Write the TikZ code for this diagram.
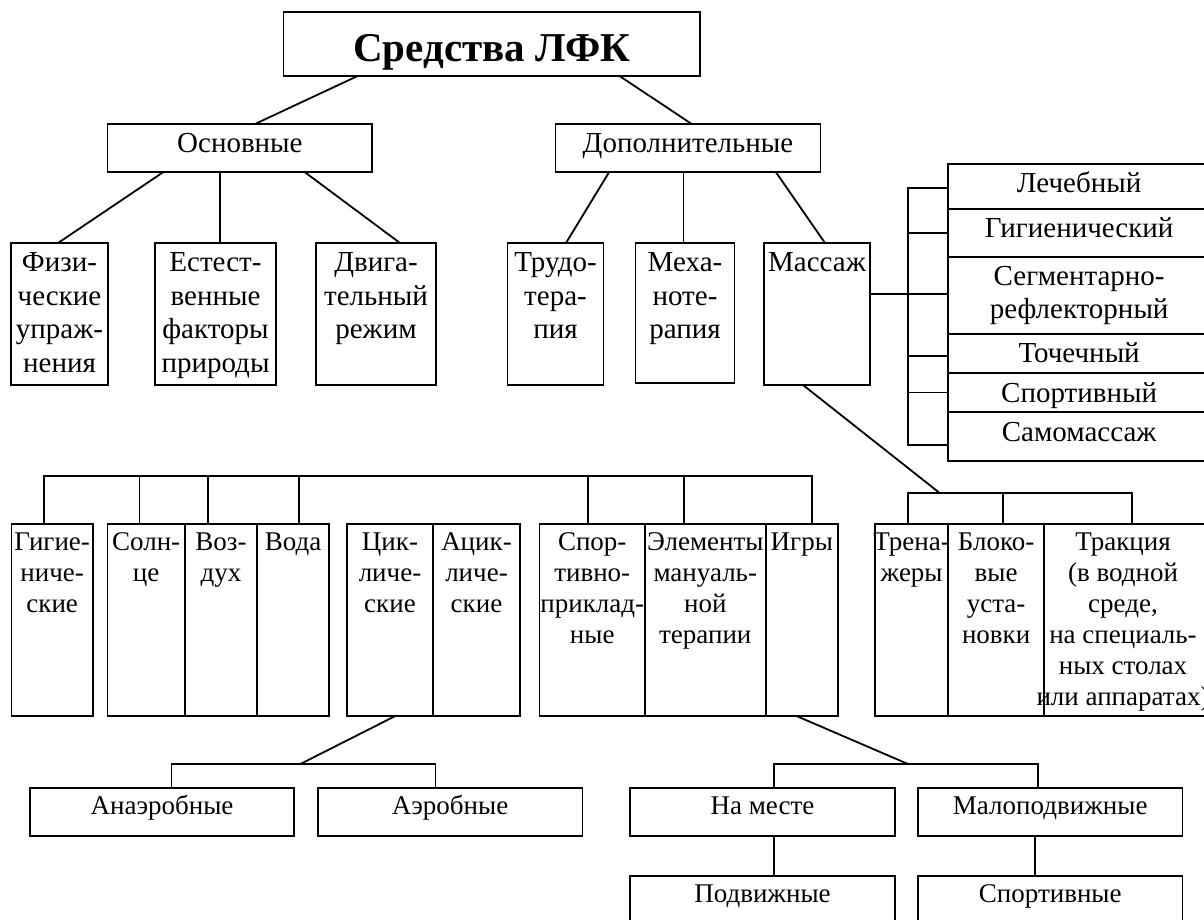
\documentclass[tikz,border=0pt]{standalone}
\usepackage{fontspec}
\setmainfont{Liberation Serif}
\usetikzlibrary{calc}
\newcommand\mkbox[5]{%
  \pgfmathsetmacro\mkbw{#4-#2}\pgfmathsetmacro\mkbh{#5-#3}%
  \node[bx, minimum width=\mkbw pt, minimum height=\mkbh pt] (#1) at (#2,#3) {};}
\tikzset{
  bx/.style={draw, line width=1.8pt, inner sep=0pt, outer sep=0pt, anchor=north west},
  ln/.style={line width=1.8pt},
  ta/.style={font=\fontsize{29}{33.5}\selectfont, align=center, inner sep=0pt, anchor=north},
  tb/.style={font=\fontsize{27}{31}\selectfont, align=center, inner sep=0pt, anchor=north},
}
\begin{document}
\begin{tikzpicture}[x=1pt,y=-1pt]
\useasboundingbox (0,0) rectangle (1204,920);
\fill[white] (0,0) rectangle (1204,920);
\clip (0,0) rectangle (1204,920);
% ---------- boxes ----------
\mkbox{title}{283.5}{12.3}{700}{76.3}
\mkbox{osn}{107.5}{124}{372.3}{172.3}
\mkbox{dop}{555.5}{124}{820.5}{172.3}
\mkbox{fiz}{11}{243}{108}{385}
\mkbox{est}{155}{243}{276}{385}
\mkbox{dvi}{316}{243}{436}{385}
\mkbox{trud}{507.5}{243}{603.5}{385}
\mkbox{mech}{635.5}{243}{734.5}{383}
\mkbox{mass}{764}{243}{870}{385}
\mkbox{lech}{948.3}{164}{1210}{209}
\mkbox{gig2}{948.3}{209}{1210}{256.7}
\mkbox{segm}{948.3}{256.7}{1210}{334}
\mkbox{toch}{948.3}{334}{1210}{372.7}
\mkbox{spor2}{948.3}{372.7}{1210}{412.3}
\mkbox{samo}{948.3}{412.3}{1210}{460.7}
\mkbox{gig}{11.4}{524}{93}{716}
\mkbox{soln}{107.4}{524}{185}{716}
\mkbox{vozd}{185}{524}{257}{716}
\mkbox{voda}{257}{524}{329}{716}
\mkbox{cikl}{347}{524}{433}{716}
\mkbox{acikl}{433}{524}{520}{716}
\mkbox{sport}{539.5}{524}{645}{716}
\mkbox{elem}{645}{524}{765.6}{716}
\mkbox{igry}{765.6}{524}{838}{716}
\mkbox{tren}{875}{524}{948.3}{716}
\mkbox{blok}{948.3}{524}{1044}{716}
\mkbox{trak}{1044}{524}{1208}{716}
\mkbox{anaer}{30}{788}{294}{836}
\mkbox{aer}{317.6}{788}{582.5}{836}
\mkbox{nam}{630}{788}{895}{836}
\mkbox{malo}{918}{788}{1182.5}{836}
\mkbox{podv}{630}{876}{895}{924}
\mkbox{sportv}{918}{876}{1182.5}{924}
% ---------- texts ----------
\node[font=\bfseries\fontsize{41}{48}\selectfont, inner sep=0pt, anchor=base] (title-t) at ([yshift=-49.4pt]title.north) {Средства ЛФК};
\node[ta] (osn-t) at ([yshift=-5pt]osn.north) {\strut Основные};
\node[ta] (dop-t) at ([yshift=-5pt]dop.north) {\strut Дополнительные};
\node[ta] (fiz-t) at ([yshift=-5pt]fiz.north) {\strut Физи-\\ческие\\упраж-\\нения};
\node[ta] (est-t) at ([yshift=-5pt]est.north) {\strut Естест-\\венные\\факторы\\природы};
\node[ta] (dvi-t) at ([yshift=-5pt]dvi.north) {\strut Двига-\\тельный\\режим};
\node[ta] (trud-t) at ([yshift=-5pt]trud.north) {\strut Трудо-\\тера-\\пия};
\node[ta] (mech-t) at ([yshift=-5pt]mech.north) {\strut Меха-\\ноте-\\рапия};
\node[ta] (mass-t) at ([yshift=-5pt]mass.north) {\strut Массаж};
\node[ta] (lech-t) at ([yshift=-5pt]lech.north) {\strut Лечебный};
\node[ta] (gig2-t) at ([yshift=-5pt]gig2.north) {\strut Гигиенический};
\node[ta] (segm-t) at ([yshift=-5pt]segm.north) {\strut Сегментарно-\\рефлекторный};
\node[ta] (toch-t) at ([yshift=-5pt]toch.north) {\strut Точечный};
\node[ta] (spor2-t) at ([yshift=-6pt]spor2.north) {\strut Спортивный};
\node[ta] (samo-t) at ([yshift=-6pt]samo.north) {\strut Самомассаж};
\node[tb] (gig-t) at ([yshift=-5pt]gig.north) {\strut Гигие-\\ниче-\\ские};
\node[tb] (soln-t) at ([yshift=-5pt]soln.north) {\strut Солн-\\це};
\node[tb] (vozd-t) at ([yshift=-5pt]vozd.north) {\strut Воз-\\дух};
\node[tb] (voda-t) at ([yshift=-5pt]voda.north) {\strut Вода};
\node[tb] (cikl-t) at ([yshift=-5pt]cikl.north) {\strut Цик-\\личе-\\ские};
\node[tb] (acikl-t) at ([yshift=-5pt]acikl.north) {\strut Ацик-\\личе-\\ские};
\node[tb] (sport-t) at ([yshift=-5pt]sport.north) {\strut Спор-\\тивно-\\приклад-\\ные};
\node[tb] (elem-t) at ([yshift=-5pt]elem.north) {\strut Элементы\\мануаль-\\ной\\терапии};
\node[tb] (igry-t) at ([yshift=-5pt]igry.north) {\strut Игры};
\node[tb] (tren-t) at ([yshift=-5pt]tren.north) {\strut Трена-\\жеры};
\node[tb] (blok-t) at ([yshift=-5pt]blok.north) {\strut Блоко-\\вые\\уста-\\новки};
\node[tb] (trak-t) at ([xshift=-3pt,yshift=-5pt]trak.north) {\strut Тракция\\(в водной\\среде,\\на специаль-\\ных столах\\или аппаратах)};
\node[tb] (anaer-t) at ([yshift=-5pt]anaer.north) {\strut Анаэробные};
\node[tb] (aer-t) at ([yshift=-5pt]aer.north) {\strut Аэробные};
\node[tb] (nam-t) at ([yshift=-5pt]nam.north) {\strut На месте};
\node[tb] (malo-t) at ([yshift=-5pt]malo.north) {\strut Малоподвижные};
\node[tb] (podv-t) at ([yshift=-5pt]podv.north) {\strut Подвижные};
\node[tb] (sportv-t) at ([yshift=-5pt]sportv.north) {\strut Спортивные};
% ---------- connectors ----------
\draw[ln] ([xshift=73.5pt]title.south west) -- ([xshift=147.5pt]osn.north west);
\draw[ln] ([xshift=336.5pt]title.south west) -- ([xshift=136.2pt]dop.north west);
\draw[ln] ([xshift=55.5pt]osn.south west) -- ([xshift=47pt]fiz.north west);
\draw[ln] ([xshift=112.1pt]osn.south west) -- ([xshift=64.6pt]est.north west);
\draw[ln] ([xshift=197.5pt]osn.south west) -- ([xshift=84pt]dvi.north west);
\draw[ln] ([xshift=53.5pt]dop.south west) -- ([xshift=58.5pt]trud.north west);
\draw[ln] ([xshift=128pt]dop.south west) -- ([xshift=48pt]mech.north west);
\draw[ln] ([xshift=220.5pt]dop.south west) -- ([xshift=61pt]mass.north west);
% massage -> kinds of massage
\coordinate (busT) at (908.3,188.3);
\coordinate (busB) at (908.3,445);
\coordinate (massj) at (913,294);
\draw[ln] ([yshift=20pt]mass.east) -- (massj);
\draw[ln] (busT -| lech.west) -- (busT) -- (busB) -- (busB -| samo.west);
\draw[ln] (busT |- gig2.west) -- (gig2.west);
\draw[ln] (busT |- massj) -- (massj -| segm.west);
\draw[ln] ([yshift=-3pt]busT |- toch.west) -- ([yshift=-3pt]toch.west);
\draw[ln] (busT |- spor2.west) -- (spor2.west);
% massage -> apparatus
\coordinate (v1) at (907.7,492.7);
\coordinate (v2) at (1003.3,492.7);
\coordinate (v3) at (1131.7,492.7);
\coordinate (vj) at (939.3,492.7);
\draw[ln] ([xshift=39pt]mass.south west) -- (vj);
\draw[ln] (v1 |- tren.north) -- (v1) -- (v3) -- (v3 |- trak.north);
\draw[ln] (v2) -- (v2 |- blok.north);
% upper bus of row 3
\coordinate (u1) at (43.7,476);
\coordinate (u2) at (139.5,476);
\coordinate (u3) at (208,476);
\coordinate (u4) at (299,476);
\coordinate (u5) at (588,476);
\coordinate (u6) at (684,476);
\coordinate (u7) at (812,476);
\draw[ln] (u1 |- gig.north) -- (u1) -- (u7) -- (u7 |- igry.north);
\draw[ln] (u2) -- (u2 |- soln.north);
\draw[ln] (u3) -- (u3 |- vozd.north);
\draw[ln] (u4) -- (u4 |- voda.north);
\draw[ln] (u5) -- (u5 |- sport.north);
\draw[ln] (u6) -- (u6 |- elem.north);
% cyclic -> anaerobic / aerobic
\coordinate (a1) at (171.4,764);
\coordinate (a2) at (435.5,764);
\coordinate (aj) at (300.4,764);
\draw[ln] ([xshift=48.3pt]cikl.south west) -- (aj);
\draw[ln] (a1 |- anaer.north) -- (a1) -- (a2) -- (a2 |- aer.north);
% games -> kinds
\coordinate (b1) at (774,764);
\coordinate (b2) at (1038,764);
\coordinate (bj) at (908,764);
\draw[ln] ([xshift=30.9pt]igry.south west) -- (bj);
\draw[ln] (b1 |- nam.north) -- (b1) -- (b2) -- (b2 |- malo.north);
\draw[ln] ([xshift=144pt]nam.south west) -- ([xshift=144pt]podv.north west);
\draw[ln] ([xshift=117pt]malo.south west) -- ([xshift=117pt]sportv.north west);
\end{tikzpicture}
\end{document}
